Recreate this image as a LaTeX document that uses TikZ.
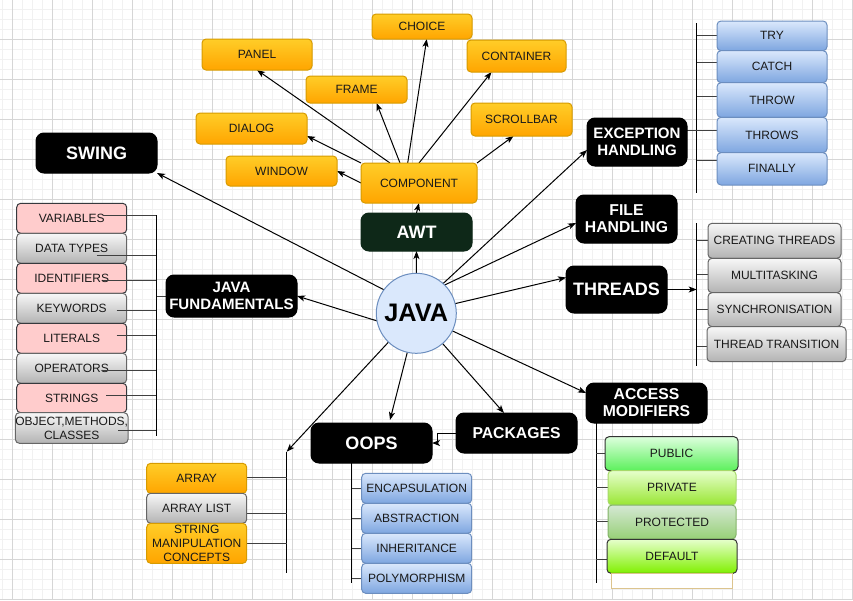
\documentclass[tikz,border=0pt]{standalone}
\usepackage{fontspec}
\setmainfont{Liberation Sans}
\usetikzlibrary{arrows.meta,calc}
\pgfdeclarelayer{bg}
\pgfdeclarelayer{edges}
\pgfsetlayers{bg,edges,main}
\definecolor{ortop}{HTML}{FFCD28}\definecolor{orbot}{HTML}{FFA500}\definecolor{orstr}{HTML}{D79B00}
\definecolor{bltop}{HTML}{DAE8FC}\definecolor{blbot}{HTML}{7EA6E0}\definecolor{blstr}{HTML}{6C8EBF}
\definecolor{grtop}{HTML}{F7F7F7}\definecolor{grbot}{HTML}{B3B3B3}\definecolor{grstr}{HTML}{666666}
\definecolor{pkfill}{HTML}{FFCCCC}\definecolor{pkstr}{HTML}{36393D}
\definecolor{awtfill}{HTML}{0E2818}
\definecolor{pubtop}{HTML}{DDFFDD}\definecolor{pubbot}{HTML}{5CF05C}
\definecolor{pritop}{HTML}{E6FFCC}\definecolor{pribot}{HTML}{99E633}\definecolor{pristr}{HTML}{A6D96A}
\definecolor{protop}{HTML}{D5E8D4}\definecolor{probot}{HTML}{97D077}\definecolor{prostr}{HTML}{82B366}
\definecolor{deftop}{HTML}{E6FFCC}\definecolor{defbot}{HTML}{80F000}
\definecolor{darkstr}{HTML}{333333}
\definecolor{tanstr}{HTML}{DCC48E}
\definecolor{minorg}{HTML}{F1F1F1}\definecolor{majorg}{HTML}{D6D6D6}
\newcommand\tickto[4]{\draw[tk] ([shift={(#2,#3)}]#1) coordinate (tmpc) -- (tmpc -| #4);}
\tikzset{
  bb/.style n args={4}{minimum width={(#3-#1)*0.75pt}, minimum height={(#4-#2)*0.75pt}, at={({(#1+#3)/2},{(#2+#4)/2})}},
  base/.style={rectangle, inner sep=0pt, outer sep=0pt, align=center, line width=0.75pt, text=black!90, font=\fontsize{9}{10.5}\selectfont},
  obox/.style={base, rounded corners=3pt, draw=orstr, top color=ortop, bottom color=orbot},
  bbox/.style={base, rounded corners=3pt, draw=blstr, top color=bltop, bottom color=blbot},
  gbox/.style={base, rounded corners=3pt, draw=grstr, top color=grtop, bottom color=grbot},
  pbox/.style={base, rounded corners=3pt, draw=pkstr, fill=pkfill},
  blk/.style={rectangle, rounded corners=6pt, fill=black, draw=black, text=white, inner sep=0pt, outer sep=0pt, align=center, line width=0.75pt, font=\bfseries\fontsize{13.5}{15}\selectfont},
  blks/.style={blk, font=\bfseries\fontsize{11.3}{12.8}\selectfont},
  arr/.style={draw=black, line width=0.75pt, -{Stealth[length=6pt,width=4.5pt,inset=1.5pt]}},
  tk/.style={draw=black!75, line width=0.75pt},
  brk/.style={draw=black, line width=0.75pt},
}
\begin{document}
\begin{tikzpicture}[x=0.75pt,y=-0.75pt]
\useasboundingbox (0,0) rectangle (853,600);
\begin{pgfonlayer}{bg}
\fill[white] (0,0) rectangle (853,600);
\foreach \i in {0,...,85} \draw[minorg, line width=0.75pt] ({2.5+10*\i},0) -- ({2.5+10*\i},600);
\foreach \j in {0,...,59} \draw[minorg, line width=0.75pt] (0,{9.5+10*\j}) -- (853,{9.5+10*\j});
\foreach \i in {0,...,21} \draw[majorg, line width=0.75pt] ({12.5+40*\i},0) -- ({12.5+40*\i},600);
\foreach \j in {0,...,14} \draw[majorg, line width=0.75pt] (0,{39.5+40*\j}) -- (853,{39.5+40*\j});
\end{pgfonlayer}

% centre
\node[circle, draw=blstr, fill=bltop, line width=0.75pt, minimum size=60pt, inner sep=0pt, outer sep=0pt, font=\bfseries\fontsize{19}{22}\selectfont] (java) at (416.3,313.3) {JAVA};

% AWT cluster
\node[obox, bb={372}{14}{472}{39}] (choice) {CHOICE};
\node[obox, bb={202}{39}{312}{70}] (panel) {PANEL};
\node[obox, bb={467}{40}{566}{72}] (container) {CONTAINER};
\node[obox, bb={306}{76}{407}{103}] (frame) {FRAME};
\node[obox, bb={471}{103}{572}{136}] (scrollbar) {SCROLLBAR};
\node[obox, bb={196}{113}{307}{144}] (dialog) {DIALOG};
\node[obox, bb={226}{156}{337}{186}] (window) {WINDOW};
\node[obox, bb={361}{163}{477}{203}] (component) {COMPONENT};
\node[blk, fill=awtfill, draw=awtfill, bb={361}{213}{472}{251}] (awt) {AWT};

% main topics
\node[blk, bb={36}{133}{157}{173}] (swing) {SWING};
\node[blks, bb={166}{275}{297}{317}] (fund) {JAVA\\FUNDAMENTALS};
\node[blks, bb={587}{118}{687}{166}] (exc) {EXCEPTION\\HANDLING};
\node[blks, font=\bfseries\fontsize{11.8}{12.8}\selectfont, bb={576}{195}{677}{243}] (file) {FILE\\HANDLING};
\node[blk, bb={566}{266}{667}{313}] (threads) {THREADS};
\node[blks, font=\bfseries\fontsize{11.8}{12.8}\selectfont, bb={586}{383}{707}{423}] (access) {ACCESS\\MODIFIERS};
\node[blks, font=\bfseries\fontsize{11.8}{12.8}\selectfont, bb={456}{413}{577}{453}] (packages) {PACKAGES};
\node[blk, bb={311}{423}{432}{463}] (oops) {OOPS};

% exception handling
\node[bbox, bb={717}{21}{827}{50.7}] (try) {TRY};
\node[bbox, bb={717}{50.7}{827}{82.7}] (catch) {CATCH};
\node[bbox, bb={717}{82.7}{827}{117.3}] (throw) {THROW};
\node[bbox, bb={717}{117.3}{827}{152.7}] (throws) {THROWS};
\node[bbox, bb={717}{152.7}{827}{185}] (finally) {FINALLY};

% threads
\node[gbox, bb={708}{223.3}{841}{258.3}] (creat) {CREATING THREADS};
\node[gbox, bb={708}{258.3}{841}{292.7}] (multi) {MULTITASKING};
\node[gbox, bb={708}{292.7}{841}{326.7}] (sync) {SYNCHRONISATION};
\node[gbox, bb={707}{326.7}{846}{361.7}] (trans) {THREAD TRANSITION};

% access modifiers
\node[base, rounded corners=3pt, draw=darkstr, top color=pubtop, bottom color=pubbot, bb={605}{436.7}{738}{470.7}] (public) {PUBLIC};
\node[base, rounded corners=3pt, draw=pristr, top color=pritop, bottom color=pribot, bb={608}{470.7}{736}{505}] (private) {PRIVATE};
\node[base, rounded corners=3pt, draw=prostr, top color=protop, bottom color=probot, bb={608}{505}{736}{539}] (protected) {PROTECTED};
\node[base, rounded corners=3pt, draw=darkstr, top color=deftop, bottom color=defbot, bb={607}{539.3}{737}{573.3}] (default) {DEFAULT};
\node[base, draw=tanstr, fill=white, bb={611}{573.3}{732}{588.3}] (empty) {};

% arrays
\node[obox, bb={146.7}{463.3}{246.7}{493.3}] (array) {ARRAY};
\node[gbox, bb={146.7}{493.3}{246.7}{523.3}] (alist) {ARRAY LIST};
\node[obox, bb={146.7}{523.3}{246.7}{563.3}] (strman) {STRING\\MANIPULATION\\CONCEPTS};

% oops
\node[bbox, bb={361.7}{473.3}{471.7}{503.3}] (encap) {ENCAPSULATION};
\node[bbox, bb={361.7}{503.3}{471.7}{533.3}] (abstr) {ABSTRACTION};
\node[bbox, bb={361.7}{533.3}{471.7}{563.3}] (inher) {INHERITANCE};
\node[bbox, bb={361.7}{563.3}{471.7}{593.3}] (poly) {POLYMORPHISM};

% fundamentals
\node[pbox, bb={16.7}{203.3}{126.7}{233.3}] (var) {VARIABLES};
\node[gbox, bb={16.7}{233.3}{126.7}{263.3}] (dtypes) {DATA TYPES};
\node[pbox, bb={16.7}{263.3}{126.7}{293.3}] (ident) {IDENTIFIERS};
\node[gbox, bb={16.7}{293.3}{126.7}{323.3}] (keyw) {KEYWORDS};
\node[pbox, bb={16.7}{323.3}{126.7}{353.3}] (lit) {LITERALS};
\node[gbox, bb={16.7}{353.3}{126.7}{383.3}] (oper) {OPERATORS};
\node[pbox, bb={16.7}{383.3}{126.7}{412.7}] (strs) {STRINGS};
\node[gbox, bb={16.7}{412.7}{126.7}{443.3}] (obj) {OBJECT,METHODS,\\CLASSES};

% bracket coordinates
\coordinate (fb1) at (156,215);   \coordinate (fb2) at (156,436);
\coordinate (eb1) at (696.7,23.3); \coordinate (eb2) at (696.7,192.7);
\coordinate (tb1) at (696.7,223.3); \coordinate (tb2) at (696.7,366);
\coordinate (ab1) at (596,423.3); \coordinate (ab2) at (596,582.7);
\coordinate (rb1) at (286.7,451.7); \coordinate (rb2) at (286.7,572.7);
\coordinate (ob1) at (351.7,463.3); \coordinate (ob2) at (351.7,583.3);

\begin{pgfonlayer}{edges}
% from JAVA
\draw[arr] (java.90) -- (awt.south);
\draw[arr] (java.144) -- (swing.south east);
\draw[arr] (java.191) -- (fund.east);
\draw[arr] (java.48) -- ($(exc.west)+(0,8)$);
\draw[arr] (java.45) -- ($(file.west)+(0,4)$);
\draw[arr] (java.14) -- ($(threads.west)+(0,-12)$);
\draw[arr] (java.334) -- ($(access.west)+(0,-10)$);
\draw[arr] (java.311) -- ($(packages.north)+(-12.5,0)$);
\draw[arr] (java.257) -- ($(oops.north)+(18.5,-3)$);
\draw[arr] (java.226) -- (rb1);
% AWT cluster
\draw[arr] (awt.north) -- (component.south);
\draw[arr] ($(component.north)+(-29,0)$) -- (panel.south);
\draw[arr] (component.north west) -- ($(dialog.east)+(0,7.5)$);
\draw[arr] (component.west) -- (window.east);
\draw[arr] ($(component.north)+(-19,0)$) -- ($(frame.south)+(20,0)$);
\draw[arr] ($(component.north)+(-11.3,0)$) -- ($(choice.south)+(4.7,0)$);
\draw[arr] (component.north) -- ($(container.south)+(-25,0)$);
\draw[arr] (component.north east) -- ($(scrollbar.south)+(-8,0)$);
% packages -> oops
\draw[arr] (packages.west) -| ($(oops.east)+(5,0)$) -- (oops.east);
% threads -> bracket
\draw[arr] (threads.east) -- (threads.east -| tb1);
% brackets
\draw[brk] (eb1) -- (eb2);
\draw[brk] (tb1) -- (tb2);
\draw[brk] (ab1) -- (ab2);
\draw[brk] (rb1) -- (rb2);
\draw[brk] (ob1) -- (ob2);
% exception ticks
\tickto{try.west}{0}{-0.85}{eb1}
\tickto{catch.west}{0}{-4}{eb1}
\tickto{throw.west}{0}{-4}{eb1}
\tickto{throws.west}{0}{-5}{eb1}
\tickto{finally.west}{0}{-8}{eb1}
\tickto{exc.east}{0}{-12}{eb1}
% thread ticks
\tickto{creat.west}{0}{-0.8}{tb1}
\tickto{multi.west}{0}{-1.2}{tb1}
\tickto{sync.west}{0}{-0.7}{tb1}
\tickto{trans.west}{0}{2.5}{tb1}
% access ticks
\tickto{public.west}{0}{-0.4}{ab1}
\tickto{private.west}{0}{-0.5}{ab1}
\tickto{protected.west}{0}{-0.3}{ab1}
\tickto{default.west}{0}{2.7}{ab1}
% array ticks
\tickto{array.east}{0}{-0.6}{rb1}
\tickto{alist.east}{0}{5}{rb1}
\tickto{strman.east}{0}{0}{rb1}
% oops ticks
\tickto{encap.west}{0}{0}{ob1}
\tickto{abstr.west}{0}{0}{ob1}
\tickto{inher.west}{0}{0}{ob1}
\tickto{poly.west}{0}{0}{ob1}
% fundamentals connector
\draw[tk] (fund.west) -- (fund.west -| fb1);
\end{pgfonlayer}

% fundamentals bracket and ticks (drawn over the boxes)
\draw[brk] (fb1) -- (fb2);
\tickto{var.east}{-23.4}{-3.3}{fb1}
\tickto{dtypes.east}{-30}{6.7}{fb1}
\tickto{ident.east}{-23.4}{1.7}{fb1}
\tickto{keyw.east}{-10}{2.4}{fb1}
\tickto{lit.east}{-10}{-3.3}{fb1}
\tickto{oper.east}{-23.4}{2.4}{fb1}
\tickto{strs.east}{-20.7}{-2.3}{fb1}
\tickto{obj.east}{-10}{2.7}{fb1}
\end{tikzpicture}
\end{document}
